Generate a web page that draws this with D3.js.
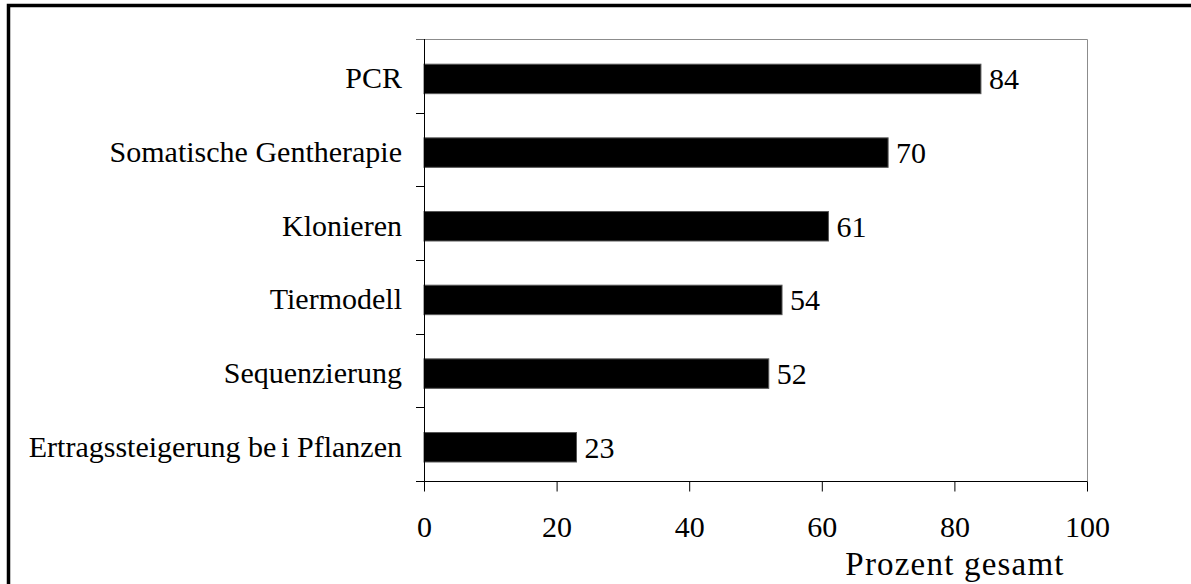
<!DOCTYPE html>
<html>
<head>
<meta charset="utf-8">
<script src="https://cdn.jsdelivr.net/npm/d3@7/dist/d3.min.js"></script>
<style>
  html, body { margin: 0; padding: 0; background: #fff; }
  svg { display: block; }
  text { font-family: "Liberation Serif", "Times New Roman", serif; fill: #000; }
</style>
</head>
<body>
<svg id="chart" width="1191" height="584"></svg>
<script>
// Survey results: share of respondents (percent) who know each term
const categories = ["PCR", "Somatische Gentherapie", "Klonieren", "Tiermodell", "Sequenzierung", "Ertragssteigerung bei Pflanzen"];
const values = [84, 70, 61, 54, 52, 23];
const xTicks = [0, 20, 40, 60, 80, 100];
const xTitle = "Prozent gesamt";

const svg = d3.select("#chart");
const W = 1191, H = 584;
const plot = { left: 424, right: 1087, top: 39, bottom: 481 };
const fontSize = 30;

// Frame around the figure (top and left edges)
svg.append("path")
  .attr("d", `M8.5,${H} V5.5 H${W}`)
  .attr("fill", "none")
  .attr("stroke", "#000")
  .attr("stroke-width", 3.5);

const x = d3.scaleLinear().domain([0, 100]).range([plot.left, plot.right]);
const y = d3.scaleBand().domain(categories).range([plot.top, plot.bottom])
  .paddingInner(0.6).paddingOuter(0.3).align(0.57);
const yBand = d3.scaleBand().domain(categories).range([plot.top, plot.bottom]);

// Plot area outline: top and right edges in grey
svg.append("path")
  .attr("d", `M${plot.left},${plot.top + 0.5} H${plot.right + 0.5} V${plot.bottom}`)
  .attr("fill", "none")
  .attr("stroke", "#8c8c8c")
  .attr("stroke-width", 1);

// Bars
svg.append("g").selectAll("rect")
  .data(categories)
  .join("rect")
  .attr("x", x(0))
  .attr("y", d => y(d))
  .attr("width", (d, i) => x(values[i]) - x(0))
  .attr("height", y.bandwidth())
  .attr("fill", "#000")
  .attr("stroke", "#555")
  .attr("stroke-width", 1);

// Value labels
svg.append("g").selectAll("text")
  .data(categories)
  .join("text")
  .attr("x", (d, i) => x(values[i]) + 8)
  .attr("y", d => y(d) + y.bandwidth() / 2)
  .attr("dy", "0.35em")
  .attr("font-size", fontSize)
  .text((d, i) => values[i]);

// Category axis: ticks at band boundaries
const yAxisG = svg.append("g");
yAxisG.append("line")
  .attr("x1", plot.left + 0.5).attr("x2", plot.left + 0.5)
  .attr("y1", plot.top).attr("y2", plot.bottom)
  .attr("stroke", "#000");
const boundaries = categories.map(c => yBand(c)).concat([plot.bottom]);
yAxisG.selectAll("line.tick")
  .data(boundaries)
  .join("line")
  .attr("class", "tick")
  .attr("x1", plot.left - 8).attr("x2", plot.left)
  .attr("y1", d => Math.round(d) + 0.5).attr("y2", d => Math.round(d) + 0.5)
  .attr("stroke", (d, i) => i === 0 ? "#666" : "#000");

const catLabels = yAxisG.selectAll("text")
  .data(categories)
  .join("text")
  .attr("x", plot.left - 22)
  .attr("y", d => yBand(d) + yBand.bandwidth() / 2 + 2)
  .attr("dy", "0.35em")
  .attr("text-anchor", "end")
  .attr("font-size", fontSize);

// "bei" is set with a loose gap before its last letter
catLabels.each(function(d) {
  const t = d3.select(this);
  const m = d.match(/^(.*\bbe)(i\b.*)$/);
  if (m) {
    t.append("tspan").text(m[1]);
    t.append("tspan").attr("dx", 5).text(m[2]);
  } else {
    t.text(d);
  }
});

// Value axis at the bottom
const xAxis = d3.axisBottom(x).tickValues(xTicks).tickSize(10).tickPadding(24).tickFormat(d3.format("d"));
const xAxisG = svg.append("g")
  .attr("transform", `translate(0,${plot.bottom + 0.5})`)
  .call(xAxis);
xAxisG.select(".domain").attr("d", `M${plot.left - 8},0 H${plot.right + 0.5}`).attr("stroke", "#000");
xAxisG.selectAll(".tick line").attr("stroke", "#000");
xAxisG.selectAll(".tick text")
  .attr("font-family", "Liberation Serif, Times New Roman, serif")
  .attr("font-size", fontSize)
  .attr("fill", "#000");

// Axis title
svg.append("text")
  .attr("x", 955)
  .attr("y", 575)
  .attr("text-anchor", "middle")
  .attr("font-size", 33)
  .attr("letter-spacing", 1.2)
  .text(xTitle);
</script>
</body>
</html>
